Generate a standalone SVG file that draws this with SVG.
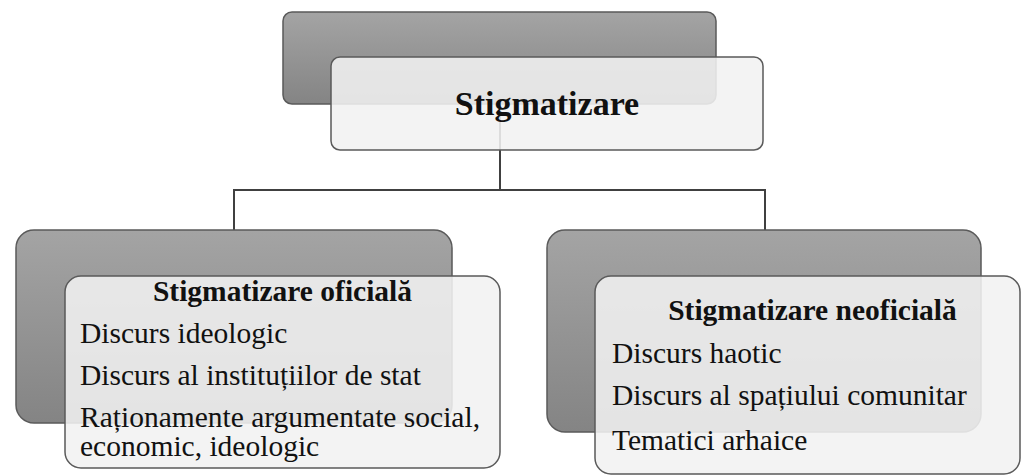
<svg xmlns="http://www.w3.org/2000/svg" width="1022" height="476" viewBox="0 0 1022 476">
<defs>
<linearGradient id="gBack" x1="0" y1="0" x2="0" y2="1">
<stop offset="0" stop-color="#a4a4a4"/>
<stop offset="1" stop-color="#848484"/>
</linearGradient>
<style>
.back{fill:url(#gBack);stroke:#5a5a5a;stroke-width:1.5}
.front{fill:#f1f1f1;fill-opacity:0.88;stroke:#5a5a5a;stroke-width:1.5}
.conn{fill:none;stroke:#404040;stroke-width:2}
.t{fill:#111}
.b{font-weight:bold}
</style>
</defs>
<rect width="1022" height="476" fill="#ffffff"/>
<g id="connectors">
<path class="conn" d="M500 104 V190"/>
<path class="conn" d="M234 230 V190 H765 V230"/>
</g>
<g id="node-root">
<rect class="back" x="283" y="12" width="433" height="92" rx="9"/>
<rect class="front" x="331" y="57" width="432" height="93" rx="9"/>
<text class="t b" font-family="'Liberation Serif', 'DejaVu Serif', serif" x="547" y="115" font-size="34" text-anchor="middle">Stigmatizare</text>
</g>
<g id="node-oficiala">
<rect class="back" x="16" y="230" width="436" height="193" rx="18"/>
<rect class="front" x="65" y="276" width="435" height="192" rx="16"/>
<text class="t b" font-family="'Liberation Serif', 'DejaVu Serif', serif" x="282.5" y="301" font-size="29.5" text-anchor="middle">Stigmatizare oficială</text>
<text class="t" font-family="'Liberation Serif', 'DejaVu Serif', serif" font-size="29.5">
<tspan x="80" y="343">Discurs ideologic</tspan>
<tspan x="80" y="385">Discurs al instituțiilor de stat</tspan>
<tspan x="80" y="427">Raționamente argumentate social,</tspan>
<tspan x="80" y="456">economic, ideologic</tspan>
</text>
</g>
<g id="node-neoficiala">
<rect class="back" x="547" y="230" width="434" height="202" rx="18"/>
<rect class="front" x="595" y="276" width="425" height="198" rx="16"/>
<text class="t b" font-family="'Liberation Serif', 'DejaVu Serif', serif" x="812.5" y="320" font-size="29.5" text-anchor="middle">Stigmatizare neoficială</text>
<text class="t" font-family="'Liberation Serif', 'DejaVu Serif', serif" font-size="29.5">
<tspan x="612" y="363">Discurs haotic</tspan>
<tspan x="612" y="405">Discurs al spațiului comunitar</tspan>
<tspan x="612" y="450">Tematici arhaice</tspan>
</text>
</g>
</svg>
